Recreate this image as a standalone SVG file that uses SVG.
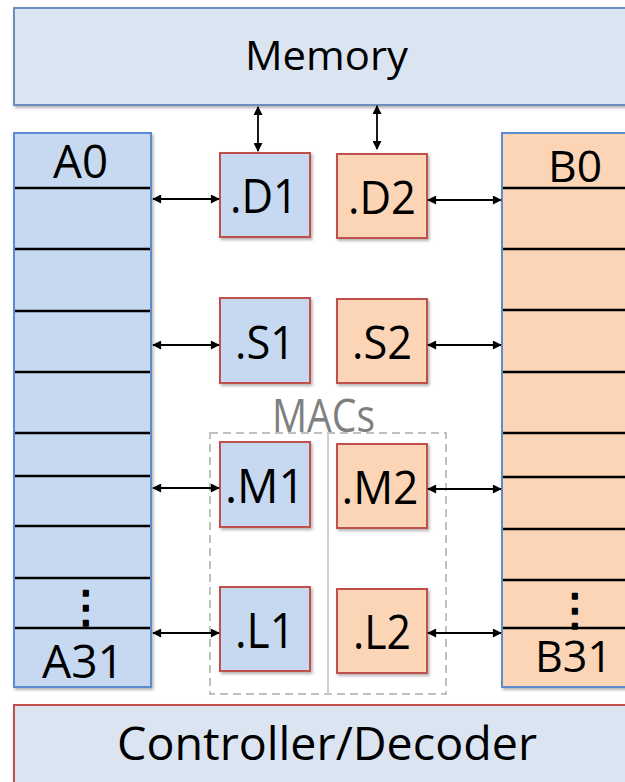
<svg xmlns="http://www.w3.org/2000/svg" width="625" height="782" viewBox="0 0 625 782">
<style>
text{font-family:"Open Sans","Noto Sans","DejaVu Sans",sans-serif;fill:#000;text-anchor:middle}
.bus{fill:#dbe5f1;stroke-width:2}
.blue{fill:#c6d9f1}
.orange{fill:#fbd5b5}
.reg{stroke:#5b8bd0;stroke-width:2}
.unit{stroke:#c0504d;stroke-width:2}
.row{stroke:#000;stroke-width:2.5}
.arr{stroke:#000;stroke-width:1.8;fill:none;marker-start:url(#ah);marker-end:url(#ah)}
.dots{font-family:"DejaVu Sans",sans-serif;stroke:#000;stroke-width:1.6;stroke-linejoin:round}
</style>
<defs>
<marker id="ah" viewBox="0 0 10 10" refX="9" refY="5" markerWidth="11" markerHeight="9" markerUnits="userSpaceOnUse" orient="auto-start-reverse">
<path d="M0,0 L10,5 L0,10 z" fill="#000"/>
</marker>
<filter id="sh" x="-10%" y="-10%" width="130%" height="130%">
<feDropShadow dx="1.5" dy="2" stdDeviation="1.5" flood-color="#000" flood-opacity="0.3"/>
</filter>
</defs>

<g id="memory">
<rect class="bus" x="14" y="8" width="640" height="97" stroke="#6c8ebf" filter="url(#sh)"/>
<text x="326.5" y="70" font-size="41" textLength="163" lengthAdjust="spacingAndGlyphs">Memory</text>
</g>

<g id="regA">
<rect class="blue reg" x="14" y="133" width="137" height="554" filter="url(#sh)"/>
<line class="row" x1="15" x2="150" y1="188" y2="188"/>
<line class="row" x1="15" x2="150" y1="249" y2="249"/>
<line class="row" x1="15" x2="150" y1="311" y2="311"/>
<line class="row" x1="15" x2="150" y1="372" y2="372"/>
<line class="row" x1="15" x2="150" y1="433" y2="433"/>
<line class="row" x1="15" x2="150" y1="476" y2="476"/>
<line class="row" x1="15" x2="150" y1="526" y2="526"/>
<line class="row" x1="15" x2="150" y1="578" y2="578"/>
<line class="row" x1="15" x2="150" y1="628" y2="628"/>
<text x="80.5" y="178" font-size="46" textLength="55" lengthAdjust="spacingAndGlyphs">A0</text>
<text class="dots" x="86" y="622" font-size="44">⋮</text>
<text x="83" y="678" font-size="46" textLength="82" lengthAdjust="spacingAndGlyphs">A31</text>
</g>

<g id="regB">
<rect class="orange reg" x="502" y="133" width="140" height="554" filter="url(#sh)"/>
<line class="row" x1="503" x2="642" y1="188" y2="188"/>
<line class="row" x1="503" x2="642" y1="249" y2="249"/>
<line class="row" x1="503" x2="642" y1="310" y2="310"/>
<line class="row" x1="503" x2="642" y1="372" y2="372"/>
<line class="row" x1="503" x2="642" y1="433" y2="433"/>
<line class="row" x1="503" x2="642" y1="477" y2="477"/>
<line class="row" x1="503" x2="642" y1="529" y2="529"/>
<line class="row" x1="503" x2="642" y1="580" y2="580"/>
<line class="row" x1="503" x2="642" y1="628" y2="628"/>
<text x="575" y="182" font-size="43" textLength="54" lengthAdjust="spacingAndGlyphs">B0</text>
<text class="dots" x="575" y="625" font-size="44">⋮</text>
<text x="573.5" y="672" font-size="44" textLength="77" lengthAdjust="spacingAndGlyphs">B31</text>
</g>

<g id="macs">
<rect x="210" y="433" width="236" height="261" fill="none" stroke="#bfbfbf" stroke-width="2" stroke-dasharray="8,5"/>
<line x1="328" y1="433" x2="328" y2="694" stroke="#d0d0d0" stroke-width="2"/>
<text x="323.5" y="432" font-size="45" style="fill:#808080" textLength="103" lengthAdjust="spacingAndGlyphs">MACs</text>
</g>

<g id="D1">
<rect class="blue unit" x="220" y="153" width="90" height="84" filter="url(#sh)"/>
<text x="264" y="213" font-size="47" textLength="68" lengthAdjust="spacingAndGlyphs">.D1</text>
</g>
<g id="D2">
<rect class="orange unit" x="337" y="154" width="90" height="84" filter="url(#sh)"/>
<text x="382" y="214" font-size="45" textLength="68" lengthAdjust="spacingAndGlyphs">.D2</text>
</g>
<g id="S1">
<rect class="blue unit" x="220" y="298" width="90" height="85" filter="url(#sh)"/>
<text x="265" y="359" font-size="45" textLength="60" lengthAdjust="spacingAndGlyphs">.S1</text>
</g>
<g id="S2">
<rect class="orange unit" x="337" y="299" width="90" height="84" filter="url(#sh)"/>
<text x="382" y="359" font-size="45" textLength="60" lengthAdjust="spacingAndGlyphs">.S2</text>
</g>
<g id="M1">
<rect class="blue unit" x="220" y="442" width="90" height="85" filter="url(#sh)"/>
<text x="265" y="503" font-size="48" textLength="80" lengthAdjust="spacingAndGlyphs">.M1</text>
</g>
<g id="M2">
<rect class="orange unit" x="337" y="444" width="90" height="84" filter="url(#sh)"/>
<text x="380" y="504" font-size="46" textLength="77" lengthAdjust="spacingAndGlyphs">.M2</text>
</g>
<g id="L1">
<rect class="blue unit" x="220" y="587" width="90" height="84" filter="url(#sh)"/>
<text x="265" y="648" font-size="49" textLength="60" lengthAdjust="spacingAndGlyphs">.L1</text>
</g>
<g id="L2">
<rect class="orange unit" x="337" y="589" width="90" height="84" filter="url(#sh)"/>
<text x="382" y="649" font-size="48" textLength="58" lengthAdjust="spacingAndGlyphs">.L2</text>
</g>

<g id="controller">
<rect class="bus" x="14" y="705" width="640" height="100" stroke="#c0504d" filter="url(#sh)"/>
<text x="327" y="760" font-size="46" textLength="420" lengthAdjust="spacingAndGlyphs">Controller/Decoder</text>
</g>

<g id="connectors">
<line class="arr" x1="258" y1="107" x2="258" y2="151"/>
<line class="arr" x1="377" y1="106" x2="377" y2="149"/>
<line class="arr" x1="153" y1="199" x2="219" y2="199"/>
<line class="arr" x1="428" y1="200" x2="501" y2="200"/>
<line class="arr" x1="153" y1="345" x2="219" y2="345"/>
<line class="arr" x1="428" y1="345" x2="501" y2="345"/>
<line class="arr" x1="153" y1="488" x2="219" y2="488"/>
<line class="arr" x1="428" y1="489" x2="501" y2="489"/>
<line class="arr" x1="153" y1="633" x2="219" y2="633"/>
<line class="arr" x1="428" y1="633" x2="501" y2="633"/>
</g>
</svg>
